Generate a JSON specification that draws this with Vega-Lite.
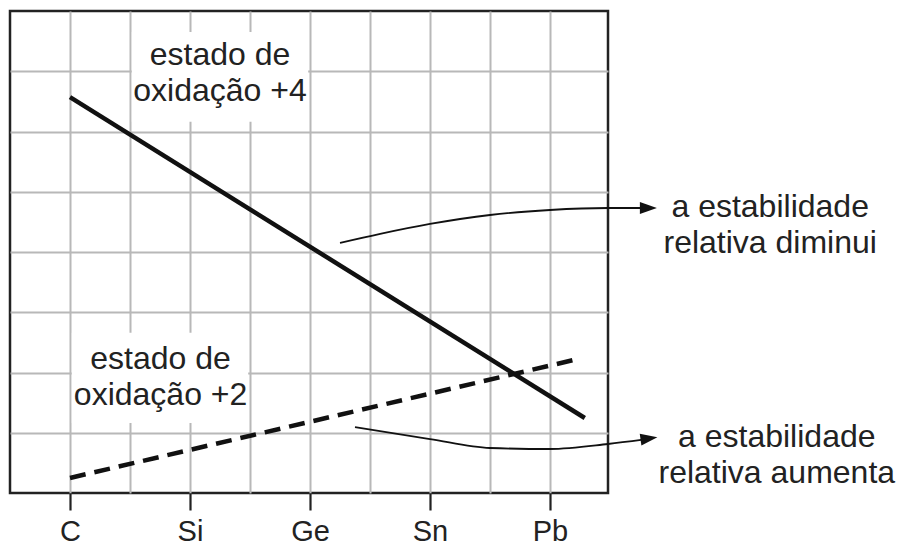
{
  "$schema": "https://vega.github.io/schema/vega-lite/v6.json",
  "width": 598,
  "height": 482,
  "autosize": {"type": "none"},
  "padding": {"left": 10, "top": 11, "right": 289, "bottom": 52},
  "background": "white",
  "config": {
    "view": {"stroke": "#222222", "strokeWidth": 2.5},
    "font": "Liberation Sans"
  },
  "datasets": {
    "boxes": [
      {"label": "+4", "x": 2.03, "x2": 4.97, "y": 7.65, "y2": 6.16},
      {"label": "+2", "x": 1.03, "x2": 3.97, "y": 2.66, "y2": 1.16}
    ],
    "lines": [
      {"serie": "+4", "x": 1, "y": 6.57},
      {"serie": "+4", "x": 9.58, "y": 1.245},
      {"serie": "+2", "x": 1, "y": 0.25},
      {"serie": "+2", "x": 9.45, "y": 2.22}
    ],
    "curves": [
      {"curva": "diminui", "x": 5.5, "y": 4.15},
      {"curva": "diminui", "x": 6.17, "y": 4.3},
      {"curva": "diminui", "x": 7, "y": 4.465},
      {"curva": "diminui", "x": 8, "y": 4.614},
      {"curva": "diminui", "x": 9, "y": 4.697},
      {"curva": "diminui", "x": 9.967, "y": 4.73},
      {"curva": "diminui", "x": 10.55, "y": 4.73},
      {"curva": "aumenta", "x": 5.75, "y": 1.095},
      {"curva": "aumenta", "x": 7, "y": 0.896},
      {"curva": "aumenta", "x": 8, "y": 0.747},
      {"curva": "aumenta", "x": 9, "y": 0.73},
      {"curva": "aumenta", "x": 9.967, "y": 0.813},
      {"curva": "aumenta", "x": 10.55, "y": 0.885}
    ],
    "heads": [
      {"curva": "diminui", "x": 10.64, "y": 4.73},
      {"curva": "aumenta", "x": 10.65, "y": 0.905}
    ],
    "labels": [
      {"texto": "estado de\noxidação +4", "x": 3.5, "y": 7.1},
      {"texto": "estado de\noxidação +2", "x": 2.51, "y": 2.06},
      {"texto": "a estabilidade\nrelativa diminui", "x": 12.67, "y": 4.58},
      {"texto": "a estabilidade\nrelativa aumenta", "x": 12.78, "y": 0.763}
    ]
  },
  "encoding": {
    "x": {
      "field": "x",
      "type": "quantitative",
      "scale": {"domain": [0, 9.967], "nice": false, "zero": false},
      "axis": {
        "title": null,
        "values": [1, 2, 3, 4, 5, 6, 7, 8, 9],
        "labelExpr": "datum.value == 1 ? 'C' : datum.value == 3 ? 'Si' : datum.value == 5 ? 'Ge' : datum.value == 7 ? 'Sn' : datum.value == 9 ? 'Pb' : ''",
        "domain": false,
        "grid": true,
        "gridColor": "#b8b8b8",
        "gridWidth": 2,
        "gridOpacity": 1,
        "ticks": true,
        "tickSize": 17,
        "tickWidth": 2.2,
        "tickColor": "#222222",
        "tickOpacity": {"condition": {"test": "datum.value % 2 === 0", "value": 0}, "value": 1},
        "labelFont": "Liberation Sans",
        "labelFontSize": 29,
        "labelColor": "#222222",
        "labelPadding": 7,
        "labelFlush": false,
        "labelOverlap": false
      }
    },
    "y": {
      "field": "y",
      "type": "quantitative",
      "scale": {"domain": [0, 8], "nice": false, "zero": false},
      "axis": {
        "title": null,
        "values": [1, 2, 3, 4, 5, 6, 7],
        "labels": false,
        "ticks": false,
        "domain": false,
        "grid": true,
        "gridColor": "#b8b8b8",
        "gridWidth": 2,
        "gridOpacity": 1
      }
    }
  },
  "layer": [
    {
      "data": {"name": "boxes"},
      "mark": {"type": "rect", "fill": "white", "stroke": null},
      "encoding": {"x2": {"field": "x2"}, "y2": {"field": "y2"}}
    },
    {
      "data": {"name": "lines"},
      "transform": [{"filter": "datum.serie == '+4'"}],
      "mark": {"type": "line", "color": "#111111", "strokeWidth": 4.5, "strokeCap": "butt"}
    },
    {
      "data": {"name": "lines"},
      "transform": [{"filter": "datum.serie == '+2'"}],
      "mark": {"type": "line", "color": "#111111", "strokeWidth": 4.5, "strokeCap": "butt", "strokeDash": [16, 9]}
    },
    {
      "data": {"name": "curves"},
      "mark": {"type": "line", "color": "#111111", "strokeWidth": 1.8, "interpolate": "monotone"},
      "encoding": {"detail": {"field": "curva"}}
    },
    {
      "data": {"name": "heads"},
      "transform": [{"filter": "datum.curva == 'diminui'"}],
      "mark": {"type": "point", "shape": "M-1,-0.7L1,0L-1,0.7Z", "filled": true, "color": "#111111", "size": 289, "opacity": 1, "angle": 0}
    },
    {
      "data": {"name": "heads"},
      "transform": [{"filter": "datum.curva == 'aumenta'"}],
      "mark": {"type": "point", "shape": "M-1,-0.7L1,0L-1,0.7Z", "filled": true, "color": "#111111", "size": 289, "opacity": 1, "angle": -8}
    },
    {
      "data": {"name": "labels"},
      "mark": {"type": "text", "align": "center", "baseline": "alphabetic", "lineBreak": "\n", "lineHeight": 36, "fontSize": 32, "font": "Liberation Sans", "color": "#222222"},
      "encoding": {"text": {"field": "texto"}}
    }
  ]
}
